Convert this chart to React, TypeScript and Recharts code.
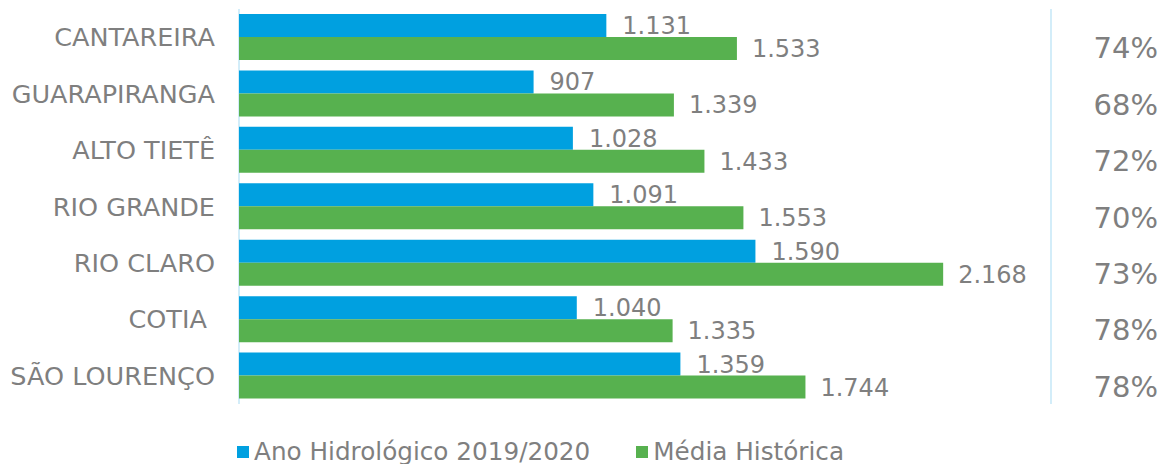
import {
  BarChart,
  Bar,
  XAxis,
  YAxis,
  CartesianGrid,
  Legend,
  LabelList,
} from 'recharts';

const categories = [
  'CANTAREIRA',
  'GUARAPIRANGA',
  'ALTO TIETÊ',
  'RIO GRANDE',
  'RIO CLARO',
  'COTIA\u00a0',
  'SÃO LOURENÇO',
];
const anoHidrologico = [1131, 907, 1028, 1091, 1590, 1040, 1359];
const mediaHistorica = [1533, 1339, 1433, 1553, 2168, 1335, 1744];
const percentLabels = ['74%', '68%', '72%', '70%', '73%', '78%', '78%'];
const xTicks = [0, 500, 1000, 1500, 2000, 2500];

const BLUE = '#00A0E0';
const GREEN = '#57B14F';
const TEXT = '#7F7F7F';
const FONT = 'Verdana, "DejaVu Sans", sans-serif';

const data = categories.map((name, i) => ({
  name,
  ano: anoHidrologico[i],
  media: mediaHistorica[i],
  pct: percentLabels[i],
}));

const fmt = (v: any) =>
  String(v).replace(/\B(?=(\d{3})+(?!\d))/g, '.');

const LeftTick = (props: any) => {
  const { x, y, payload } = props;
  return (
    <text
      x={x}
      y={y}
      dy={9}
      textAnchor='end'
      fill={TEXT}
      fontSize={25.5}
      fontFamily={FONT}
    >
      {payload.value}
    </text>
  );
};

const RightTick = (props: any) => {
  const { x, y, index } = props;
  return (
    <text
      x={x}
      y={y}
      dy={21}
      textAnchor='end'
      fill={TEXT}
      fontSize={29}
      fontFamily={FONT}
    >
      {percentLabels[index]}
    </text>
  );
};

const renderLegend = () => (
  <div
    style={{
      display: 'flex',
      alignItems: 'center',
      fontFamily: FONT,
      fontSize: 24.7,
      color: TEXT,
      lineHeight: '28px',
    }}
  >
    <span
      style={{ width: 12, height: 12, background: BLUE, display: 'inline-block' }}
    />
    <span style={{ marginLeft: 5 }}>Ano Hidrológico 2019/2020</span>
    <span
      style={{
        width: 12,
        height: 12,
        background: GREEN,
        display: 'inline-block',
        marginLeft: 46,
      }}
    />
    <span style={{ marginLeft: 5 }}>Média Histórica</span>
  </div>
);

const App = () => {
  return (
    <div style={{ position: 'absolute', left: 0, top: 0 }}>
      <BarChart
        width={1165}
        height={464}
        layout='vertical'
        data={data}
        margin={{ top: 9, right: 0, bottom: 32, left: 0 }}
        barCategoryGap={5}
        barGap={0}
      >
        <CartesianGrid horizontal={false} stroke='#D3EDF9' strokeWidth={2} />
        <XAxis
          type='number'
          domain={[0, 2500]}
          ticks={xTicks}
          tick={false}
          axisLine={false}
          tickLine={false}
          height={0}
        />
        <YAxis
          type='category'
          dataKey='name'
          width={239}
          axisLine={false}
          tickLine={false}
          tickSize={0}
          tickMargin={24}
          tick={<LeftTick />}
        />
        <YAxis
          yAxisId='pct'
          orientation='right'
          type='category'
          dataKey='name'
          width={114}
          axisLine={false}
          tickLine={false}
          tickSize={0}
          tickMargin={107}
          tick={<RightTick />}
        />
        <Legend
          content={renderLegend}
          wrapperStyle={{ position: 'absolute', left: 237, top: 438, width: 'auto' }}
        />
        <Bar
          dataKey='ano'
          name='Ano Hidrológico 2019/2020'
          fill={BLUE}
          isAnimationActive={false}
        >
          <LabelList
            dataKey='ano'
            position='right'
            offset={16}
            formatter={fmt}
            fill={TEXT}
            fontSize={24}
            fontFamily={FONT}
          />
        </Bar>
        <Bar
          dataKey='media'
          name='Média Histórica'
          fill={GREEN}
          isAnimationActive={false}
        >
          <LabelList
            dataKey='media'
            position='right'
            offset={15}
            formatter={fmt}
            fill={TEXT}
            fontSize={24}
            fontFamily={FONT}
          />
        </Bar>
      </BarChart>
    </div>
  );
};

export default App;
